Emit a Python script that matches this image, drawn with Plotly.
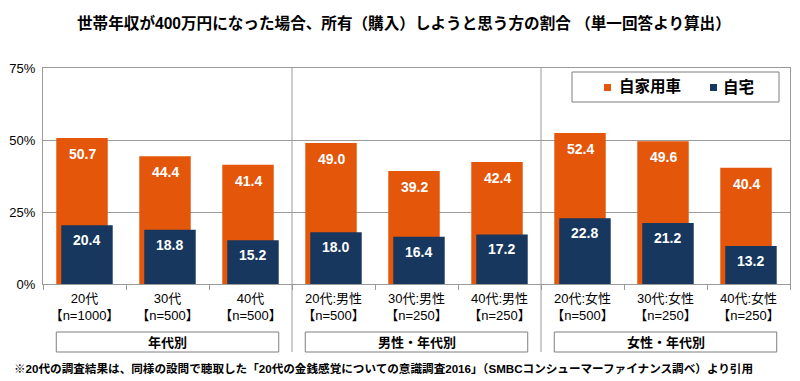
import plotly.graph_objects as go

categories = ["20代<br>【n=1000】", "30代<br>【n=500】", "40代<br>【n=500】",
              "20代:男性<br>【n=500】", "30代:男性<br>【n=250】", "40代:男性<br>【n=250】",
              "20代:女性<br>【n=500】", "30代:女性<br>【n=250】", "40代:女性<br>【n=250】"]
car_values = [50.7, 44.4, 41.4, 49.0, 39.2, 42.4, 52.4, 49.6, 40.4]
home_values = [20.4, 18.8, 15.2, 18.0, 16.4, 17.2, 22.8, 21.2, 13.2]
series_names = ["自家用車", "自宅"]
group_labels = ["年代別", "男性・年代別", "女性・年代別"]
group_size = 3
y_ticks = [0, 25, 50, 75]
y_tick_text = ["0%", "25%", "50%", "75%"]

ORANGE = "#E4560A"
NAVY = "#17375E"
GREY = "#9A9A9A"
JP = "Liberation Sans, Arial, Noto Sans CJK JP"
BAR_W = 0.62
OFF_CAR = -0.34
OFF_HOME = -0.28

# the page body has an 8px margin: the figure is drawn at (8, 8)
PAGE_OFF = 8
W, H = 800 - PAGE_OFF, 381 - PAGE_OFF
# plot area geometry in window pixels
PL, PR, PT, PB = 43, 790, 68, 284
def px(x):
    return (x - PL) / (PR - PL)
def py(y):
    return (PB - y) / (PB - PT)

fig = go.Figure()
fig.add_trace(go.Bar(x=categories, y=car_values, name=series_names[0],
                     marker=dict(color=ORANGE, line=dict(width=0)),
                     width=BAR_W, offset=OFF_CAR, showlegend=False))
fig.add_trace(go.Bar(x=categories, y=home_values, name=series_names[1],
                     marker=dict(color=NAVY, line=dict(width=0)),
                     width=BAR_W, offset=OFF_HOME, showlegend=False))

annotations = []
shapes = []
for i, (c, h) in enumerate(zip(car_values, home_values)):
    annotations.append(dict(x=i + OFF_CAR + BAR_W / 2, y=c, xref="x", yref="y",
                            text=f"{c:.1f}", showarrow=False, yshift=-16,
                            yanchor="middle",
                            font=dict(family=JP, size=14, color="white", weight="bold")))
    annotations.append(dict(x=i + OFF_HOME + BAR_W / 2, y=h, xref="x", yref="y",
                            text=f"{h:.1f}", showarrow=False, yshift=-15,
                            yanchor="middle",
                            font=dict(family=JP, size=14, color="white", weight="bold")))

box_y0, box_y1 = py(352), py(332)
for g, label in enumerate(group_labels):
    first = g * group_size
    last = first + group_size - 1
    x0 = first + OFF_CAR
    x1 = last + OFF_HOME + BAR_W
    shapes.append(dict(type="rect", xref="x", yref="paper", x0=x0, x1=x1,
                       y0=box_y0, y1=box_y1, line=dict(color="#7F7F7F", width=1),
                       fillcolor="white", layer="above"))
    annotations.append(dict(x=(x0 + x1) / 2, y=(box_y0 + box_y1) / 2, xref="x", yref="paper",
                            text=label, showarrow=False, yanchor="middle",
                            font=dict(family=JP, size=13, color="black", weight="bold")))
    if g > 0:
        shapes.append(dict(type="line", xref="x", yref="paper", x0=first - 0.5, x1=first - 0.5,
                           y0=box_y0, y1=1, line=dict(color=GREY, width=1), layer="above"))

# legend (drawn manually to match the boxed legend of the reference)
shapes.append(dict(type="rect", xref="paper", yref="paper", x0=px(572), x1=px(779),
                   y0=py(102), y1=py(72), line=dict(color="#7F7F7F", width=1),
                   fillcolor="white", layer="above"))
legend_items = [(series_names[0], ORANGE, 604, 617), (series_names[1], NAVY, 710, 721)]
for name, color, sx, tx in legend_items:
    shapes.append(dict(type="rect", xref="paper", yref="paper", x0=px(sx), x1=px(sx + 7),
                       y0=py(91), y1=py(84), line=dict(width=0), fillcolor=color, layer="above"))
    annotations.append(dict(x=px(tx), y=py(87), xref="paper", yref="paper",
                            xanchor="left", yanchor="middle", text=name, showarrow=False,
                            font=dict(family=JP, size=15.5, color="black", weight="bold")))

annotations.append(dict(
    x=px(12), y=py(368), xref="paper", yref="paper", xanchor="left", yanchor="middle",
    text="※20代の調査結果は、同様の設問で聴取した「20代の金銭感覚についての意識調査2016」（SMBCコンシューマーファイナンス調べ）より引用",
    showarrow=False, font=dict(family=JP, size=11.6, color="black", weight="bold")))

annotations.append(dict(
    x=px(404), y=py(23), xref="paper", yref="paper", xanchor="center", yanchor="middle",
    text="世帯年収が400万円になった場合、所有（購入）しようと思う方の割合 （単一回答より算出）",
    showarrow=False, font=dict(family=JP, size=15.6, color="black", weight="bold")))

fig.update_layout(
    width=W, height=H,
    margin=dict(l=PL - PAGE_OFF, r=800 - PR, t=PT - PAGE_OFF, b=381 - PB, autoexpand=False),
    paper_bgcolor="white", plot_bgcolor="white",
    barmode="overlay",
    showlegend=False,
    annotations=annotations,
    shapes=shapes,
)
fig.update_xaxes(type="category", tickson="boundaries", ticks="outside", ticklen=5,
                 tickcolor=GREY, showline=True, linecolor=GREY, mirror=True,
                 showgrid=False, range=[-0.5, len(categories) - 0.5],
                 tickangle=0, automargin=False, ticklabelstandoff=2,
                 tickfont=dict(family=JP, size=13, color="black"))
fig.update_yaxes(range=[0, 75], tickvals=y_ticks, ticktext=y_tick_text, showgrid=True,
                 gridcolor=GREY, gridwidth=1, showline=True, linecolor=GREY, mirror=True,
                 zeroline=False, ticks="", ticklabelstandoff=4, automargin=False,
                 tickfont=dict(family=JP, size=13, color="black"))

fig.write_html("out.html")
